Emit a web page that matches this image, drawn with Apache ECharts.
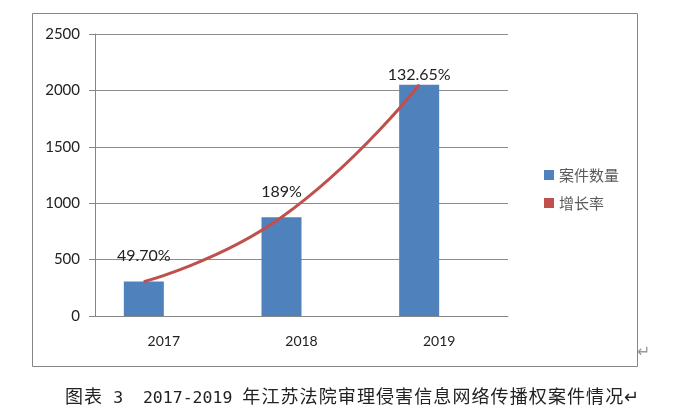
<!DOCTYPE html>
<html>
<head>
<meta charset="utf-8">
<script src="https://cdn.jsdelivr.net/npm/echarts@6/dist/echarts.min.js"></script>
<style>
html, body { margin: 0; padding: 0; background: #fff; }
#wrap { position: relative; width: 687px; height: 412px; }
#main { width: 687px; height: 412px; }
#caption { position: absolute; left: 65px; top: 385px; line-height: 20px; color: #222; white-space: pre; }
#caption .cjk { font-family: 'Noto Sans CJK SC'; font-size: 18px; letter-spacing: 1.1px; }
#caption .num { font-family: 'DejaVu Sans Mono'; font-size: 16.5px; }
</style>
</head>
<body>
<div id="wrap">
	<div id="main"></div>
	<div id="caption"><span class="cjk">图表</span><span class="num"> 3  2017-2019 </span><span class="cjk">年江苏法院审理侵害信息网络传播权案件情况↵</span></div>
</div>
<script>
// 数据
var years = ['2017', '2018', '2019'];
var caseNum = [305, 875, 2050];
var growthRate = [0.497, 1.89, 1.3265];
var growthLabel = ['49.70%', '189%', '132.65%'];
var yTicks = [0, 500, 1000, 1500, 2000, 2500];

// 布局
var gridLeft = 95, gridRight = 179, gridTop = 34, gridBottom = 96;
var barW = 40;
var labelDist = [17, 17, 1];

var chart = echarts.init(document.getElementById('main'));
var catW = (687 - gridLeft - gridRight) / years.length;
var shift = -(barW / 2) / catW;

// 曲线数据（在蓝色柱中心）
var lineData = caseNum.map(function(v, i) {
	return {
		value: [i + shift, v],
		label: { distance: labelDist[i], formatter: growthLabel[i] }
	};
});

var option = {
	animation: false,
	grid: { left: gridLeft, right: gridRight, top: gridTop, bottom: gridBottom },
	legend: {
		orient: 'vertical',
		left: 539,
		top: 162,
		itemWidth: 10,
		itemHeight: 10,
		itemGap: 12,
		icon: 'rect',
		data: ['案件数量', {
			name: '增长率',
			itemStyle: { color: '#C0504D', opacity: 1 }
		}],
		textStyle: { fontFamily: 'Noto Sans CJK SC', fontSize: 15, color: '#595959', lineHeight: 16 }
	},
	xAxis: [{
		type: 'category',
		data: years,
		axisLine: { lineStyle: { color: '#868686' } },
		axisTick: { length: 5, lineStyle: { color: '#868686' } },
		axisLabel: { margin: 18, color: '#222', fontFamily: 'Lato', fontSize: 14 }
	}, {
		type: 'value',
		min: -0.5,
		max: years.length - 0.5,
		show: false
	}],
	yAxis: {
		type: 'value',
		min: 0,
		max: yTicks[yTicks.length - 1],
		interval: 500,
		axisLine: { show: true, onZero: false, lineStyle: { color: '#868686' } },
		axisTick: { show: true, length: 6, lineStyle: { color: '#868686' } },
		axisLabel: {
			margin: 15, color: '#222', fontFamily: 'Lato', fontSize: 15,
			formatter: function(v) { return String(v); }
		},
		splitLine: { lineStyle: { color: '#8c8c8c' } }
	},
	series: [{
		name: '案件数量',
		type: 'bar',
		barWidth: barW,
		barGap: '0%',
		itemStyle: { color: '#4F81BD' },
		data: caseNum
	}, {
		name: '增长率',
		type: 'bar',
		barWidth: barW,
		itemStyle: { color: '#C0504D', opacity: 0 },
		data: growthRate
	}, {
		name: '趋势',
		type: 'line',
		xAxisIndex: 1,
		smooth: true,
		symbol: 'circle',
		symbolSize: 1,
		itemStyle: { color: '#C0504D' },
		lineStyle: { color: '#C0504D', width: 3 },
		label: { show: true, position: 'top', color: '#222', fontFamily: 'Lato', fontSize: 16 },
		data: lineData
	}],
	graphic: [{
		type: 'rect',
		shape: { x: 32.5, y: 13.5, width: 605, height: 353 },
		style: { fill: 'none', stroke: '#868686', lineWidth: 1 },
		silent: true
	}, {
		type: 'text',
		left: 637,
		top: 345,
		style: { text: '↵', fill: '#999', fontSize: 16, fontFamily: 'DejaVu Sans' }
	}]
};
chart.setOption(option);
</script>
</body>
</html>
